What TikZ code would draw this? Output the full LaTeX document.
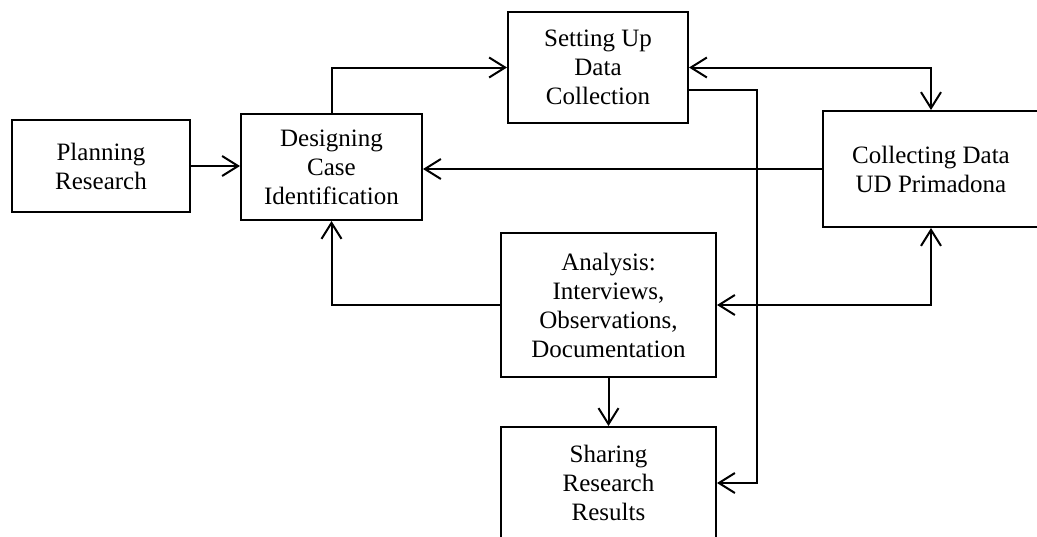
\documentclass[tikz,border=0pt]{standalone}
\usepackage{fontspec}
\setmainfont{Liberation Serif}
\usetikzlibrary{arrows.meta}
\tikzset{
  block/.style={draw, line width=1pt, align=center, inner sep=0pt,
    font=\fontsize{12.5}{14.5}\selectfont},
  link/.style={line width=1pt, -{Straight Barb[length=8pt,width=10pt,line width=1pt]}},
  twolink/.style={line width=1pt, {Straight Barb[length=8pt,width=10pt,line width=1pt]}-{Straight Barb[length=8pt,width=10pt,line width=1pt]}}
}
\begin{document}
\begin{tikzpicture}[x=0.5pt,y=-0.5pt]
      \useasboundingbox (0,0) rectangle (1037,536);
      \draw
        (101,166) node[block, minimum width=89pt, minimum height=46pt] (plan){Planning\\Research}
        (331.5,167) node[block, minimum width=90.5pt, minimum height=53pt] (design){Designing\\Case\\Identification}
        (598,67.5) node[block, minimum width=90pt, minimum height=55.5pt] (setup){Setting Up\\Data\\Collection}
        (931,169) node[block, minimum width=108pt, minimum height=58pt] (collect){Collecting Data\\UD Primadona}
        (608.5,305) node[block, minimum width=107.5pt, minimum height=72pt] (analysis){Analysis:\\Interviews,\\Observations,\\Documentation}
        (608.5,483) node[block, minimum width=107.5pt, minimum height=56pt] (share){Sharing\\Research\\Results};
      \coordinate (bend) at (757,483);
      \begin{scope}
        \draw[link] (plan.east) -- (plan.east -| design.west);
        \draw[link] (design.north) |- (setup.west);
        \draw[link] (collect.west) -- (collect.west -| design.east);
        \draw[twolink] (setup.east) -| (collect.north);
        \draw[link] (setup.-14.6) -| (bend) -- (share.east);
        \draw[twolink] (analysis.east) -| (collect.south);
        \draw[link] (analysis.west) -| (design.south);
        \draw[link] (analysis.south) -- (share.north);
      \end{scope}
    \end{tikzpicture}
\end{document}
